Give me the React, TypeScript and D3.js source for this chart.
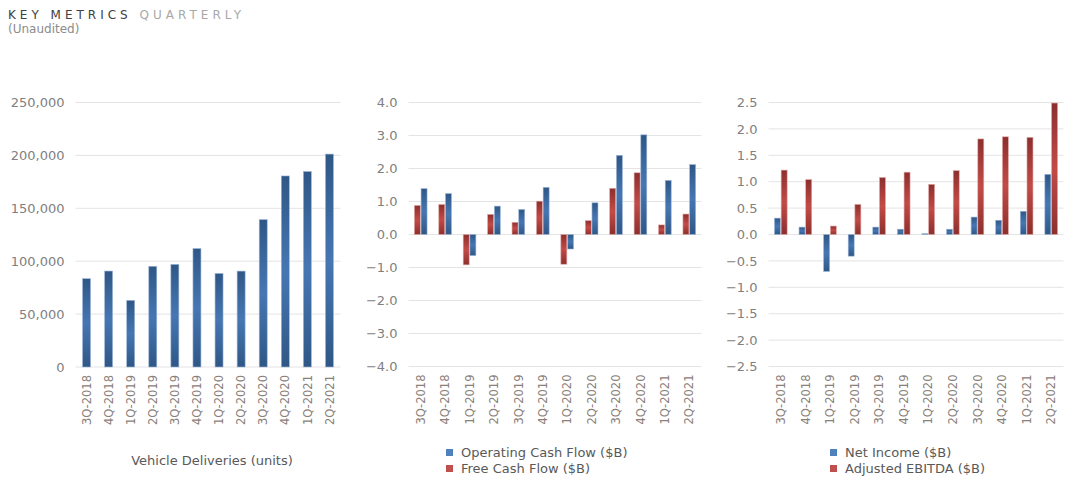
import React from "react";
import * as d3 from "d3";

const quarters = ["3Q-2018","4Q-2018","1Q-2019","2Q-2019","3Q-2019","4Q-2019","1Q-2020","2Q-2020","3Q-2020","4Q-2020","1Q-2021","2Q-2021"];
const deliveries = [83500, 90700, 63000, 95200, 97000, 112000, 88400, 90650, 139300, 180570, 184800, 201250];
const deliveryTicks = [0, 50000, 100000, 150000, 200000, 250000];
const operatingCashFlow = [1.39, 1.24, -0.64, 0.86, 0.76, 1.43, -0.44, 0.96, 2.40, 3.02, 1.64, 2.12];
const freeCashFlow = [0.88, 0.91, -0.92, 0.61, 0.37, 1.01, -0.90, 0.42, 1.40, 1.87, 0.29, 0.62];
const cashTicks = [-4, -3, -2, -1, 0, 1, 2, 3, 4];
const netIncome = [0.31, 0.14, -0.70, -0.41, 0.14, 0.10, 0.016, 0.10, 0.33, 0.27, 0.44, 1.14];
const adjustedEbitda = [1.22, 1.04, 0.16, 0.57, 1.08, 1.18, 0.95, 1.21, 1.81, 1.85, 1.84, 2.49];
const incomeTicks = [-2.5, -2, -1.5, -1, -0.5, 0, 0.5, 1, 1.5, 2, 2.5];

const FONT = "'DejaVu Sans', sans-serif";
const GRID = "#e4e4e4";
const YTXT = "#808080";
const XTXT = "#8a8079";
const BLUE = "#4f81bd";
const RED = "#c0504d";

type Series = { values: number[]; grad: string; stroke: string };

function Panel(props: {
  x0: number; x1: number; yTop: number; yBot: number;
  domain: [number, number]; ticks: number[]; fmt: (v: number) => string;
  series: Series[]; barW: number; gap: number;
}) {
  const { x0, x1, yTop, yBot, domain, ticks, fmt, series, barW, gap } = props;
  const x = d3.scaleBand<string>().domain(quarters).range([x0, x1]).padding(0);
  const y = d3.scaleLinear().domain(domain).range([yBot, yTop]);
  const n = series.length;
  const groupW = n * barW + (n - 1) * gap;
  return (
    <g>
      {ticks.map((t) => (
        <g key={t}>
          <line x1={x0} x2={x1} y1={y(t)} y2={y(t)} stroke={GRID} strokeWidth={1} />
          <text x={x0 - 11} y={y(t)} dy="0.36em" textAnchor="end" fontSize={13} fill={YTXT} fontFamily={FONT}>{fmt(t)}</text>
        </g>
      ))}
      {quarters.map((q, i) => {
        const c = (x(q) as number) + x.bandwidth() / 2;
        return (
          <g key={q}>
            {series.map((s, k) => {
              const v = s.values[i];
              const bx = c - groupW / 2 + k * (barW + gap);
              const top = Math.min(y(v), y(0));
              const h = Math.abs(y(v) - y(0));
              return <rect key={k} x={bx} y={top} width={barW} height={h} fill={`url(#${s.grad})`} stroke={s.stroke} strokeWidth={0.6} />;
            })}
            <text transform={`translate(${c},${yBot + 8}) rotate(-90)`} dy="0.36em" textAnchor="end" fontSize={11.5} fill={XTXT} fontFamily={FONT}>{q}</text>
          </g>
        );
      })}
    </g>
  );
}

function Legend(props: { x: number; y: number; items: { label: string; color: string }[] }) {
  return (
    <g>
      {props.items.map((it, i) => (
        <g key={it.label} transform={`translate(${props.x},${props.y + i * 16})`}>
          <rect x={0} y={-8} width={7} height={7} fill={it.color} />
          <text x={15} y={0} fontSize={13} fill="#595959" fontFamily={FONT}>{it.label}</text>
        </g>
      ))}
    </g>
  );
}

export default function App() {
  const fmtK = d3.format(",");
  const fmt1 = d3.format(".1f");
  return (
    <svg width={1080} height={492} style={{ position: "absolute", left: 0, top: 0, background: "#fff" }}>
      <defs>
        <linearGradient id="gBlue" x1="0" y1="0" x2="0" y2="1">
          <stop offset="0" stopColor="#2f5786" />
          <stop offset="0.5" stopColor="#4677b3" />
          <stop offset="1" stopColor="#2f5786" />
        </linearGradient>
        <linearGradient id="gRed" x1="0" y1="0" x2="0" y2="1">
          <stop offset="0" stopColor="#8c2f2d" />
          <stop offset="0.5" stopColor="#c24b47" />
          <stop offset="1" stopColor="#8c2f2d" />
        </linearGradient>
      </defs>
      <text x={8} y={19} fontSize={12} fontFamily={FONT} letterSpacing={4}>
        <tspan fill="#404040">KEY METRICS </tspan>
        <tspan fill="#a8a8a8">QUARTERLY</tspan>
      </text>
      <text x={8} y={33} fontSize={12} fontFamily={FONT} fill="#8c8c8c">(Unaudited)</text>

      <Panel x0={75.5} x1={340.5} yTop={102.5} yBot={367} domain={[0, 250000]} ticks={deliveryTicks} fmt={fmtK}
        series={[{ values: deliveries, grad: "gBlue", stroke: "#9fb7d8" }]} barW={8} gap={0} />
      <Panel x0={408.5} x1={701.5} yTop={102.5} yBot={366.5} domain={[-4, 4]} ticks={cashTicks} fmt={fmt1}
        series={[{ values: freeCashFlow, grad: "gRed", stroke: "#dfa9a7" }, { values: operatingCashFlow, grad: "gBlue", stroke: "#9fb7d8" }]} barW={6} gap={0.7} />
      <Panel x0={768.5} x1={1063.5} yTop={102.5} yBot={366.5} domain={[-2.5, 2.5]} ticks={incomeTicks} fmt={fmt1}
        series={[{ values: netIncome, grad: "gBlue", stroke: "#9fb7d8" }, { values: adjustedEbitda, grad: "gRed", stroke: "#dfa9a7" }]} barW={6} gap={0.7} />

      <text x={212} y={465} textAnchor="middle" fontSize={13} fill="#595959" fontFamily={FONT}>Vehicle Deliveries (units)</text>
      <Legend x={446} y={457} items={[{ label: "Operating Cash Flow ($B)", color: BLUE }, { label: "Free Cash Flow ($B)", color: RED }]} />
      <Legend x={830} y={457} items={[{ label: "Net Income ($B)", color: BLUE }, { label: "Adjusted EBITDA ($B)", color: RED }]} />
    </svg>
  );
}
